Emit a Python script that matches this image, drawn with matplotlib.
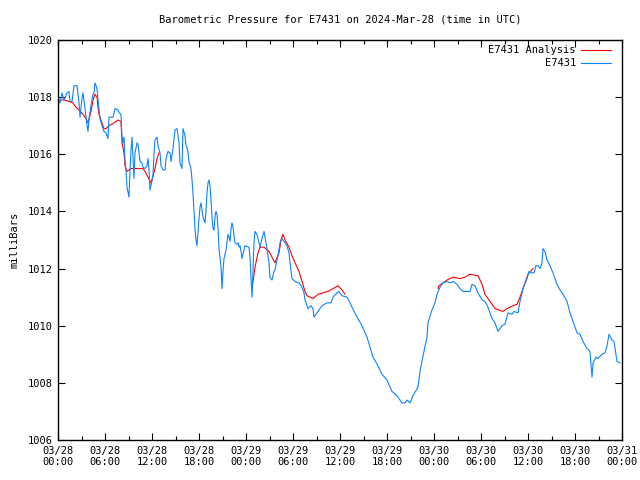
import numpy as np
import matplotlib
matplotlib.use("Agg")
import matplotlib.pyplot as plt
from matplotlib.ticker import MultipleLocator, FixedLocator
from matplotlib.lines import Line2D

# hours since 2024-03-28 00:00 UTC
obs_hours = [
    0.00, 0.26, 0.51, 0.77, 1.15, 1.40, 1.53, 1.79, 2.04, 2.43, 2.68, 2.81, 3.06, 3.19,
    3.45, 3.70, 3.83, 3.96, 4.21, 4.47, 4.60, 4.72, 4.98, 5.11, 5.23, 5.36, 5.62, 5.87,
    6.13, 6.38, 6.51, 7.02, 7.28, 7.66, 7.79, 8.04, 8.17, 8.30, 8.43, 8.55, 8.68, 8.81,
    9.06, 9.19, 9.32, 9.45, 9.57, 9.70, 9.83, 10.09, 10.21, 10.34, 10.47, 10.72, 10.85,
    11.11, 11.36, 11.49, 11.62, 11.74, 11.87, 12.13, 12.26, 12.38, 12.64, 12.77, 13.02,
    13.15, 13.40, 13.66, 13.79, 14.04, 14.30, 14.43, 14.68, 14.94, 15.19, 15.45, 15.57,
    15.83, 15.96, 16.21, 16.34, 16.47, 16.60, 16.72, 16.98, 17.11, 17.23, 17.36, 17.49,
    17.62, 17.74, 17.87, 18.00, 18.13, 18.26, 18.38, 18.51, 18.77, 18.89, 19.02, 19.15,
    19.28, 19.40, 19.53, 19.66, 19.79, 19.91, 20.04, 20.17, 20.30, 20.43, 20.55, 20.81,
    20.94, 21.06, 21.19, 21.45, 21.57, 21.70, 21.83, 21.96, 22.09, 22.21, 22.34, 22.47,
    22.60, 22.85, 22.98, 23.11, 23.23, 23.36, 23.49, 23.74, 23.87, 24.38, 24.51, 24.64,
    24.77, 24.89, 25.02, 25.15, 25.40, 25.66, 25.79, 26.04, 26.30, 26.43, 26.68, 26.94,
    27.06, 27.32, 27.57, 27.70, 27.96, 28.21, 28.34, 28.60, 28.85, 28.98, 29.23, 29.49,
    29.62, 29.87, 30.26, 30.77, 31.15, 31.40, 31.53, 31.66, 31.91, 32.30, 32.55, 32.68,
    33.19, 33.70, 34.34, 34.85, 35.11, 35.62, 35.87, 36.26, 36.89, 37.28, 37.53, 38.17,
    38.81, 39.45, 39.83, 40.21, 40.85, 41.36, 42.00, 42.64, 43.28, 43.91, 44.30, 44.55,
    44.94, 45.32, 45.96, 46.21, 46.60, 47.11, 47.23, 47.74, 48.13, 48.38, 48.77, 49.15,
    49.66, 50.04, 50.43, 50.94, 51.32, 51.70, 52.60, 52.85, 53.23, 53.62, 54.13, 54.51,
    54.89, 55.40, 55.79, 56.17, 56.68, 57.06, 57.45, 57.96, 58.21, 58.72, 58.98, 59.36,
    59.87, 60.13, 60.51, 60.77, 61.02, 61.28, 61.53, 61.79, 61.91, 62.17, 62.43, 62.81,
    63.19, 63.70, 64.09, 64.47, 64.98, 65.36, 65.74, 66.26, 66.64, 67.02, 67.53, 67.91,
    68.17, 68.30, 68.68, 68.94, 69.45, 69.83, 70.09, 70.34, 70.72, 70.98, 71.36, 71.74,
]
obs_mb = [
    1017.9, 1017.8, 1018.15, 1017.9, 1018.15, 1018.2, 1017.85, 1017.85, 1018.4, 1018.4,
    1017.8, 1017.3, 1017.95, 1018.15, 1017.6, 1017.0, 1016.8, 1017.25, 1017.7, 1018.1,
    1018.15, 1018.5, 1018.3, 1017.9, 1017.6, 1017.25, 1017.0, 1016.8, 1016.75, 1016.55,
    1017.3, 1017.3, 1017.6, 1017.55, 1017.45, 1017.4, 1016.6, 1016.4, 1016.6, 1015.8,
    1015.4, 1014.85, 1014.5, 1015.4, 1016.15, 1016.6, 1015.9, 1015.15, 1016.05, 1016.4,
    1016.35, 1016.05, 1015.75, 1015.7, 1015.55, 1015.5, 1015.6, 1015.85, 1015.45, 1014.75,
    1014.9, 1015.3, 1016.05, 1016.5, 1016.6, 1016.3, 1016.05, 1015.6, 1015.45, 1015.45,
    1015.85, 1016.1, 1016.05, 1015.75, 1016.2, 1016.85, 1016.9, 1016.4, 1015.7, 1015.5,
    1016.9, 1016.65, 1016.3, 1016.25, 1016.05, 1015.75, 1015.5, 1015.1, 1014.65, 1014.05,
    1013.4, 1013.0, 1012.8, 1013.25, 1013.75, 1014.15, 1014.3, 1014.05, 1013.8, 1013.6,
    1014.0, 1014.65, 1015.0, 1015.1, 1014.9, 1014.4, 1013.8, 1013.4, 1013.35, 1013.8,
    1014.0, 1013.9, 1013.4, 1012.7, 1012.05, 1011.3, 1011.9, 1012.35, 1012.65, 1012.9,
    1013.2, 1013.1, 1012.95, 1013.4, 1013.6, 1013.45, 1013.15, 1012.9, 1012.85, 1012.9,
    1012.75, 1012.8, 1012.6, 1012.35, 1012.65, 1012.8, 1012.75, 1012.4, 1011.65, 1011.0,
    1011.95, 1012.9, 1013.3, 1013.2, 1012.9, 1012.75, 1013.05, 1013.3, 1013.1, 1012.7,
    1012.2, 1011.7, 1011.6, 1011.9, 1011.95, 1012.3, 1012.65, 1012.9, 1013.05, 1012.95,
    1012.9, 1012.8, 1012.55, 1012.2, 1011.65, 1011.55, 1011.5, 1011.35, 1011.15, 1010.9,
    1010.8, 1010.6, 1010.7, 1010.6, 1010.3, 1010.5, 1010.7, 1010.8, 1010.8, 1011.0,
    1011.15, 1011.2, 1011.05, 1011.0, 1010.8, 1010.65, 1010.3, 1010.0, 1009.6, 1009.25,
    1008.9, 1008.6, 1008.3, 1008.1, 1007.7, 1007.55, 1007.3, 1007.3, 1007.4, 1007.3,
    1007.55, 1007.85, 1008.4, 1008.95, 1009.6, 1010.1, 1010.55, 1010.8, 1011.1, 1011.35,
    1011.5, 1011.55, 1011.5, 1011.55, 1011.45, 1011.3, 1011.2, 1011.2, 1011.45, 1011.4,
    1011.15, 1010.9, 1010.85, 1010.65, 1010.25, 1010.1, 1009.8, 1010.0, 1010.05, 1010.45,
    1010.4, 1010.5, 1010.45, 1010.85, 1011.3, 1011.65, 1011.9, 1011.85, 1011.85, 1012.1,
    1012.1, 1012.0, 1012.2, 1012.7, 1012.6, 1012.3, 1012.1, 1011.85, 1011.45, 1011.25,
    1011.1, 1010.85, 1010.45, 1010.15, 1009.75, 1009.7, 1009.45, 1009.2, 1009.1, 1008.2,
    1008.7, 1008.9, 1008.85, 1009.0, 1009.05, 1009.3, 1009.7, 1009.5, 1009.45, 1008.75,
    1008.7,
]

# analysis comes in three separate pieces
ana1_hours = [0.00, 0.77, 1.40, 1.91, 2.30, 2.68, 3.19, 3.57, 3.83, 4.21, 4.47, 4.72,
              4.98, 5.11, 5.23, 5.49, 5.87, 6.13, 6.51, 7.15, 7.66, 8.04, 8.17, 8.43,
              8.55, 8.81, 9.32, 9.83, 10.85, 11.11, 11.49, 11.87, 12.00, 12.38, 12.64,
              12.89]
ana1_mb = [1017.9, 1017.9, 1017.85, 1017.8, 1017.65, 1017.55, 1017.4, 1017.25, 1017.1,
           1017.5, 1017.9, 1018.1, 1018.0, 1017.65, 1017.4, 1017.2, 1016.9, 1016.9,
           1017.0, 1017.1, 1017.2, 1017.15, 1016.4, 1016.05, 1015.6, 1015.4, 1015.5,
           1015.5, 1015.5, 1015.4, 1015.2, 1015.0, 1015.1, 1015.5, 1015.85, 1016.05]

ana2_hours = [24.77, 25.15, 25.53, 25.79, 26.30, 26.94, 27.32, 27.70, 28.21, 28.47,
              28.72, 28.98, 29.49, 29.87, 30.26, 30.77, 31.15, 31.53, 31.79, 32.17,
              32.55, 33.19, 33.83, 34.47, 35.11, 35.74, 36.26, 36.64]
ana2_mb = [1011.3, 1012.05, 1012.55, 1012.75, 1012.75, 1012.6, 1012.4, 1012.2, 1012.55,
           1013.0, 1013.2, 1013.0, 1012.75, 1012.45, 1012.2, 1011.9, 1011.55, 1011.2,
           1011.05, 1011.0, 1010.95, 1011.1, 1011.15, 1011.2, 1011.3, 1011.4, 1011.25,
           1011.1]

ana3_hours = [48.51, 48.64, 49.66, 50.43, 51.32, 51.96, 52.60, 53.62, 54.13, 54.51,
              55.15, 55.79, 56.81, 57.32, 58.09, 58.60, 58.98, 59.36, 60.00, 60.64]
ana3_mb = [1011.3, 1011.4, 1011.6, 1011.7, 1011.65, 1011.7, 1011.8, 1011.75, 1011.45,
           1011.1, 1010.85, 1010.6, 1010.5, 1010.6, 1010.7, 1010.75, 1011.0, 1011.3,
           1011.8, 1012.0]

tick_labels = ["03/28\n00:00", "03/28\n06:00", "03/28\n12:00", "03/28\n18:00",
               "03/29\n00:00", "03/29\n06:00", "03/29\n12:00", "03/29\n18:00",
               "03/30\n00:00", "03/30\n06:00", "03/30\n12:00", "03/30\n18:00",
               "03/31\n00:00"]

RED = "#ff0000"
BLUE = "#0a84ff"
LW = 0.8
plt.rcParams['font.family'] = ['DejaVu Sans Mono']
plt.rcParams['font.size'] = 7.5

fig = plt.figure(figsize=(6.4, 4.8), dpi=100)
ax = fig.add_axes([58 / 640, 40 / 480, 564 / 640, 400 / 480])

# join the analysis pieces with gaps
ana_h = ana1_hours + [np.nan] + ana2_hours + [np.nan] + ana3_hours
ana_v = ana1_mb + [np.nan] + ana2_mb + [np.nan] + ana3_mb
ax.plot(ana_h, ana_v, color=RED, lw=LW)
ax.plot(obs_hours, obs_mb, color=BLUE, lw=LW)

ax.set_xlim(0, 72)
ax.set_ylim(1006, 1020)
ax.xaxis.set_major_locator(FixedLocator(np.arange(0, 73, 6)))
ax.set_xticklabels(tick_labels)
ax.xaxis.set_minor_locator(MultipleLocator(3))
ax.yaxis.set_major_locator(MultipleLocator(2))
ax.tick_params(which="both", direction="in", top=True, right=True, color="black", width=0.8)
ax.tick_params(which="major", length=5, pad=4)
ax.tick_params(which="minor", length=3)
for s in ax.spines.values():
    s.set_linewidth(1.0)

ax.set_ylabel("milliBars", labelpad=6)
fig.text(340 / 640, 1 - 19 / 480, "Barometric Pressure for E7431 on 2024-Mar-28 (time in UTC)",
         ha="center", va="center", fontsize=7.5)

# gnuplot style key: right aligned text, line sample after it
for i, (name, col) in enumerate([("E7431 Analysis", RED), ("E7431", BLUE)]):
    yk = 1 - (50 + 13 * i - 40) / 400
    ax.text(518 / 564, yk, name, transform=ax.transAxes, ha="right", va="center")
    ax.add_line(Line2D([523 / 564, 553 / 564], [yk, yk], transform=ax.transAxes,
                       color=col, lw=LW))

fig.savefig("out.png", dpi=100)
